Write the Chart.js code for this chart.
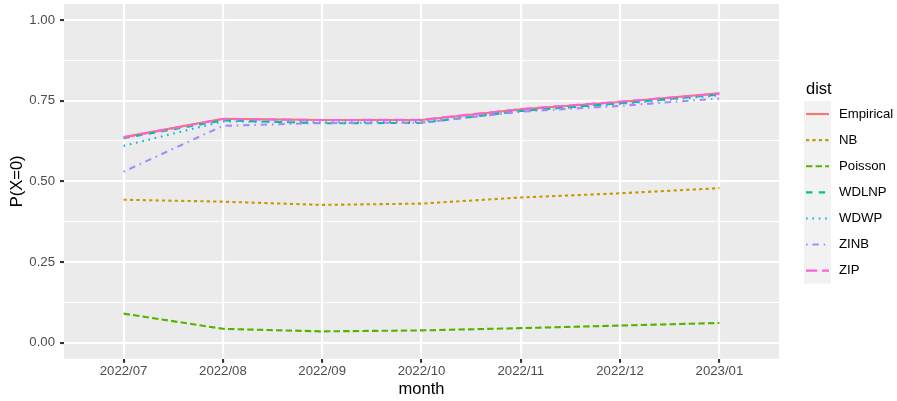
<!DOCTYPE html>
<html>
<head>
<meta charset="utf-8">
<script src="https://cdn.jsdelivr.net/npm/chart.js@4.4.1/dist/chart.umd.min.js"></script>
<style>
  html, body { margin: 0; padding: 0; background: #ffffff; }
  #wrap { width: 897px; height: 401px; position: relative; }
</style>
</head>
<body>
<div id="wrap"><canvas id="probChart"></canvas></div>
<script>
// --- data ---
const months = ['2022/07', '2022/08', '2022/09', '2022/10', '2022/11', '2022/12', '2023/01'];
const distNames = ['Empirical', 'NB', 'Poisson', 'WDLNP', 'WDWP', 'ZINB', 'ZIP'];
const empirical = [0.637, 0.694, 0.690, 0.690, 0.723, 0.746, 0.773];
const nb        = [0.443, 0.437, 0.427, 0.431, 0.450, 0.463, 0.479];
const poisson   = [0.090, 0.043, 0.035, 0.038, 0.045, 0.053, 0.061];
const wdlnp     = [0.634, 0.689, 0.680, 0.681, 0.718, 0.742, 0.769];
const wdwp      = [0.610, 0.686, 0.683, 0.684, 0.718, 0.740, 0.767];
const zinb      = [0.530, 0.672, 0.681, 0.682, 0.716, 0.734, 0.757];
const zip       = [0.636, 0.693, 0.690, 0.691, 0.724, 0.747, 0.772];
const yTicks = [0, 0.125, 0.25, 0.375, 0.5, 0.625, 0.75, 0.875, 1];

// ggplot hue palette + default linetypes
const colors = ['#F8766D', '#C49A00', '#53B400', '#00C094', '#00B6EB', '#A58AFF', '#FB61D7'];
const u = 1.6; // one linetype unit in px
const dashes = [
    [],                      // solid
    [2 * u, 2 * u],          // "22"
    [4 * u, 2 * u],          // "42"
    [4 * u, 4 * u],          // "44"
    [1 * u, 3 * u],          // "13"
    [1 * u, 3 * u, 4 * u, 3 * u], // "1343"
    [7 * u, 3 * u]           // "73"
];
const series = [empirical, nb, poisson, wdlnp, wdwp, zinb, zip];
const LW = 2.1;
const FONT = '"Liberation Sans", Arial, sans-serif';

// grey panel behind the grid
const panelBg = {
    id: 'panelBg',
    beforeDraw(chart) {
        const {ctx, chartArea} = chart;
        ctx.save();
        ctx.fillStyle = '#EBEBEB';
        ctx.fillRect(chartArea.left, chartArea.top, chartArea.right - chartArea.left, chartArea.bottom - chartArea.top);
        ctx.restore();
    }
};

// ggplot style legend on the right
const sideLegend = {
    id: 'sideLegend',
    afterDraw(chart) {
        const ctx = chart.ctx;
        const x0 = 804, y0 = 101, keyW = 27, keyH = 26.1;
        const sets = chart.data.datasets;
        ctx.save();
        ctx.fillStyle = '#000000';
        ctx.font = '16.5px ' + FONT;
        ctx.textBaseline = 'middle';
        ctx.textAlign = 'left';
        ctx.fillText('dist', 806, 89);

        ctx.fillStyle = '#F2F2F2';
        ctx.fillRect(x0, y0, keyW, keyH * sets.length);

        sets.forEach((ds, i) => {
            const yc = y0 + keyH * i + keyH / 2;
            ctx.beginPath();
            ctx.setLineDash(ds.borderDash);
            ctx.lineWidth = LW;
            ctx.lineCap = 'butt';
            ctx.strokeStyle = ds.borderColor;
            ctx.moveTo(x0 + 2, yc);
            ctx.lineTo(x0 + keyW - 2, yc);
            ctx.stroke();
            ctx.setLineDash([]);
            ctx.fillStyle = '#000000';
            ctx.font = '13.2px ' + FONT;
            ctx.fillText(ds.label, 839, yc);
        });
        ctx.restore();
    }
};

const isMajor = v => Math.abs(v / 0.25 - Math.round(v / 0.25)) < 1e-6;
// ticks never sit on the panel edge here, so drop the label overhang padding
const noOverhang = s => { s.paddingTop = 0; s.paddingBottom = 0; s.paddingLeft = 0; s.paddingRight = 0; };

const chart = new Chart(document.getElementById('probChart').getContext('2d'), {
    type: 'line',
    plugins: [panelBg, sideLegend],
    data: {
        datasets: distNames.map((name, i) => ({
            label: name,
            data: series[i].map((v, k) => ({x: k, y: v})),
            borderColor: colors[i],
            backgroundColor: colors[i],
            borderDash: dashes[i],
            borderWidth: LW,
            pointRadius: 0,
            tension: 0,
            fill: false,
            order: distNames.length - i // later series on top, like ggplot
        }))
    },
    options: {
        responsive: true,
        maintainAspectRatio: false,
        animation: false,
        layout: { padding: { top: 3.9, right: 118, left: 0, bottom: 0 } },
        plugins: {
            legend: { display: false },
            tooltip: { enabled: false }
        },
        scales: {
            x: {
                type: 'linear',
                min: -0.6,
                max: 6.6,
                afterBuildTicks: s => { s.ticks = months.map((m, k) => ({value: k})); },
                afterFit: s => { s.height = 401 - 358.8; noOverhang(s); },
                border: { display: false },
                grid: {
                    color: '#FFFFFF',
                    lineWidth: LW,
                    drawTicks: true,
                    tickLength: 4,
                    tickColor: '#333333',
                    tickWidth: LW
                },
                ticks: {
                    color: '#4D4D4D',
                    font: { family: FONT, size: 13.2 },
                    padding: 1,
                    maxRotation: 0,
                    autoSkip: false,
                    callback: v => months[v]
                },
                title: {
                    display: true,
                    text: 'month',
                    color: '#000000',
                    font: { family: FONT, size: 16.5 },
                    padding: { top: 0, bottom: 1.8 }
                }
            },
            y: {
                min: -0.05,
                max: 1.05,
                afterBuildTicks: s => { s.ticks = yTicks.map(v => ({value: v})); },
                afterFit: s => { s.width = 64; noOverhang(s); },
                border: { display: false },
                grid: {
                    color: '#FFFFFF',
                    lineWidth: c => isMajor(c.tick.value) ? LW : LW / 2,
                    drawTicks: true,
                    tickLength: 4,
                    tickColor: c => isMajor(c.tick.value) ? '#333333' : 'rgba(0,0,0,0)',
                    tickWidth: LW
                },
                ticks: {
                    color: '#4D4D4D',
                    font: { family: FONT, size: 13.2 },
                    padding: 5,
                    autoSkip: false,
                    callback: v => isMajor(v) ? v.toFixed(2) : ''
                },
                title: {
                    display: true,
                    text: 'P(X=0)',
                    color: '#000000',
                    font: { family: FONT, size: 16.5 },
                    padding: { top: 7.6, bottom: 0 }
                }
            }
        }
    }
});
</script>
</body>
</html>
